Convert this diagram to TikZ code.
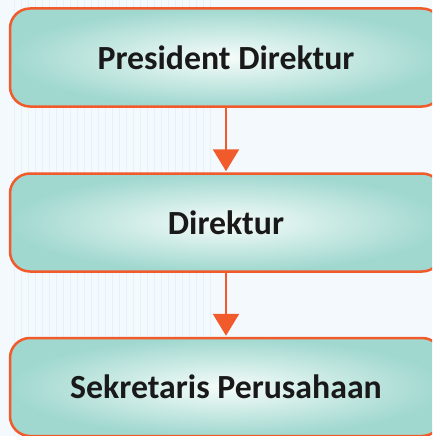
\documentclass[tikz,border=0pt]{standalone}
\usepackage{fontspec}
\setmainfont{Carlito}
\usetikzlibrary{arrows.meta}

\definecolor{bgblue}{HTML}{F3F9FD}
\definecolor{stripe}{HTML}{E6F2FA}
\definecolor{boxteal}{HTML}{A0D8CF}
\definecolor{boxlight}{HTML}{F6FCFA}
\definecolor{edgeorange}{HTML}{F15A2B}

\tikzset{
	orgbox/.style={draw=edgeorange, line width=2.5pt, rounded corners=20pt,
		shade, inner color=boxlight, outer color=boxteal,
		minimum width=432pt, minimum height=98pt,
		font=\fontsize{33.8}{38}\selectfont\bfseries, text=black!90},
	orgarrow/.style={draw=edgeorange, line width=2.5pt,
		-{Triangle[width=26pt,length=22pt]}, shorten >=1pt}
}

\begin{document}
\begin{tikzpicture}[x=1pt, y=-1pt]
		\useasboundingbox (0, 0) rectangle (432, 436);
		\clip (0, 0) rectangle (432, 436);
		\fill[bgblue] (0, 0) rectangle (432, 436);
		
		% faint background stripes
		\foreach \x in {14, 21, ..., 210} {
			\draw[stripe, line width=0.8pt] (\x, 0) -- (\x, 436);
		}
		
		\node[orgbox] (presdir) at (226, 57.5) {President Direktur};
		\node[orgbox] (dir) at (226, 222.5) {Direktur};
		\node[orgbox] (sekper) at (226, 387) {Sekretaris Perusahaan};
		
		\draw[orgarrow] (presdir.south) -- (dir.north);
		\draw[orgarrow] (dir.south) -- (sekper.north);
	\end{tikzpicture}
\end{document}
